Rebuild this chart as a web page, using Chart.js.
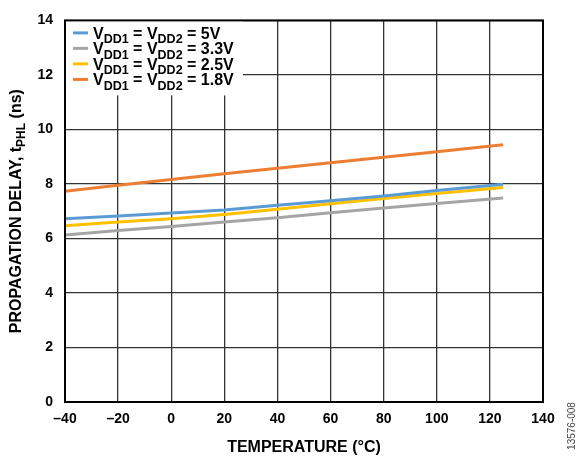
<!DOCTYPE html>
<html lang="en">
  <head>
    <meta charset="UTF-8" />
    <title>Propagation Delay vs Temperature</title>
    <script src="https://cdn.jsdelivr.net/npm/chart.js"></script>
    <style>
      html, body {
        margin: 0;
        padding: 0;
        background: #ffffff;
      }
      #wrap {
        width: 579px;
        height: 457px;
      }
    </style>
  </head>
  <body>
    <div id="wrap"><canvas id="delayChart" width="579" height="457"></canvas></div>

    <script>
      // temperatures (°C) where the curves were read
      const temps = [-40, -20, 0, 20, 40, 60, 80, 100, 125];

      // tPHL (ns) per supply
      const delay5v = [6.72, 6.82, 6.93, 7.04, 7.22, 7.38, 7.56, 7.76, 7.99];
      const delay3v3 = [6.13, 6.29, 6.44, 6.6, 6.76, 6.94, 7.12, 7.28, 7.48];
      const delay2v5 = [6.47, 6.6, 6.72, 6.88, 7.07, 7.27, 7.47, 7.65, 7.87];
      const delay1v8 = [7.73, 7.95, 8.16, 8.37, 8.58, 8.78, 8.98, 9.18, 9.44];

      const supplyLabels = ["5V", "3.3V", "2.5V", "1.8V"];
      const xTicks = [-40, -20, 0, 20, 40, 60, 80, 100, 120, 140];
      const yTicks = [0, 2, 4, 6, 8, 10, 12, 14];

      const colors = ["#5b9bd5", "#a5a5a5", "#ffc000", "#ed7d31"];
      const FONT = "'Liberation Sans', Arial, sans-serif";

      function toPoints(ys) {
        return temps.map((t, i) => ({ x: t, y: ys[i] }));
      }

      // text with subscripts: parts = [[text, isSub], ...]
      function drawRich(ctx, parts, x, y, size, subSize) {
        let cx = x;
        parts.forEach(([txt, sub]) => {
          ctx.font = "bold " + (sub ? subSize : size) + "px " + FONT;
          ctx.fillText(txt, cx, sub ? y + size * 0.27 : y);
          cx += ctx.measureText(txt).width;
        });
        return cx;
      }
      function richWidth(ctx, parts, size, subSize) {
        let w = 0;
        parts.forEach(([txt, sub]) => {
          ctx.font = "bold " + (sub ? subSize : size) + "px " + FONT;
          w += ctx.measureText(txt).width;
        });
        return w;
      }

      const decorations = {
        id: "decorations",
        afterDraw(chart) {
          const ctx = chart.ctx;
          const a = chart.chartArea;
          ctx.save();

          // legend box
          ctx.fillStyle = "#ffffff";
          ctx.fillRect(a.left, a.top, 178, 75);
          ctx.textBaseline = "alphabetic";
          ctx.textAlign = "left";
          supplyLabels.forEach((lab, i) => {
            const yy = a.top + 12.5 + i * 15.5;
            ctx.strokeStyle = colors[i];
            ctx.lineWidth = 3;
            ctx.beginPath();
            ctx.moveTo(a.left + 8, yy);
            ctx.lineTo(a.left + 23, yy);
            ctx.stroke();
            ctx.fillStyle = "#000000";
            drawRich(
              ctx,
              [["V", false], ["DD1", true], [" = V", false], ["DD2", true], [" = " + lab, false]],
              a.left + 28,
              yy + 6,
              16,
              12.5
            );
          });

          // plot frame
          ctx.strokeStyle = "#000000";
          ctx.lineWidth = 2;
          ctx.strokeRect(a.left, a.top, a.right - a.left, a.bottom - a.top);

          // y title
          ctx.fillStyle = "#000000";
          const yParts = [["PROPAGATION DELAY, t", false], ["PHL", true], [" (ns)", false]];
          const w = richWidth(ctx, yParts, 16, 12);
          ctx.translate(21, (a.top + a.bottom) / 2);
          ctx.rotate(-Math.PI / 2);
          drawRich(ctx, yParts, -w / 2, 0, 16, 12);
          ctx.setTransform(1, 0, 0, 1, 0, 0);

          // x title
          ctx.font = "bold 16px " + FONT;
          ctx.textAlign = "center";
          ctx.fillText("TEMPERATURE (°C)", (a.left + a.right) / 2, 452);

          // figure id
          ctx.font = "10px " + FONT;
          ctx.fillStyle = "#444444";
          ctx.translate(575, 426);
          ctx.rotate(-Math.PI / 2);
          ctx.textAlign = "center";
          ctx.fillText("13576-008", 0, 0);
          ctx.restore();
        },
      };

      new Chart(document.getElementById("delayChart"), {
        type: "line",
        data: {
          datasets: supplyLabels.map((lab, i) => ({
            label: "VDD1 = VDD2 = " + lab,
            data: toPoints([delay5v, delay3v3, delay2v5, delay1v8][i]),
            borderColor: colors[i],
            backgroundColor: colors[i],
            borderWidth: 3,
            pointRadius: 0,
            tension: 0,
            order: [1, 4, 2, 3][i],
          })),
        },
        options: {
          responsive: false,
          animation: false,
          layout: { padding: { top: 17, right: 36, left: 0, bottom: 0 } },
          plugins: {
            legend: { display: false },
            tooltip: { enabled: false },
          },
          scales: {
            x: {
              type: "linear",
              min: xTicks[0],
              max: xTicks[xTicks.length - 1],
              afterBuildTicks: (s) => {
                s.ticks = xTicks.map((v) => ({ value: v }));
              },
              afterFit: (s) => {
                s.height = 55;
              },
              grid: { color: "#333333", lineWidth: 1.3, drawTicks: false },
              border: { display: false },
              ticks: {
                color: "#000000",
                font: { family: FONT, size: 14, weight: "bold" },
                padding: 9,
                maxRotation: 0,
                callback: (v) => String(v).replace("-", "\u2013"),
              },
            },
            y: {
              min: yTicks[0],
              max: yTicks[yTicks.length - 1],
              afterBuildTicks: (s) => {
                s.ticks = yTicks.map((v) => ({ value: v }));
              },
              afterFit: (s) => {
                s.width = 65;
              },
              grid: { color: "#333333", lineWidth: 1.3, drawTicks: false },
              border: { display: false },
              ticks: {
                color: "#000000",
                font: { family: FONT, size: 14, weight: "bold" },
                padding: 12,
              },
            },
          },
        },
        plugins: [decorations],
      });
    </script>
  </body>
</html>
